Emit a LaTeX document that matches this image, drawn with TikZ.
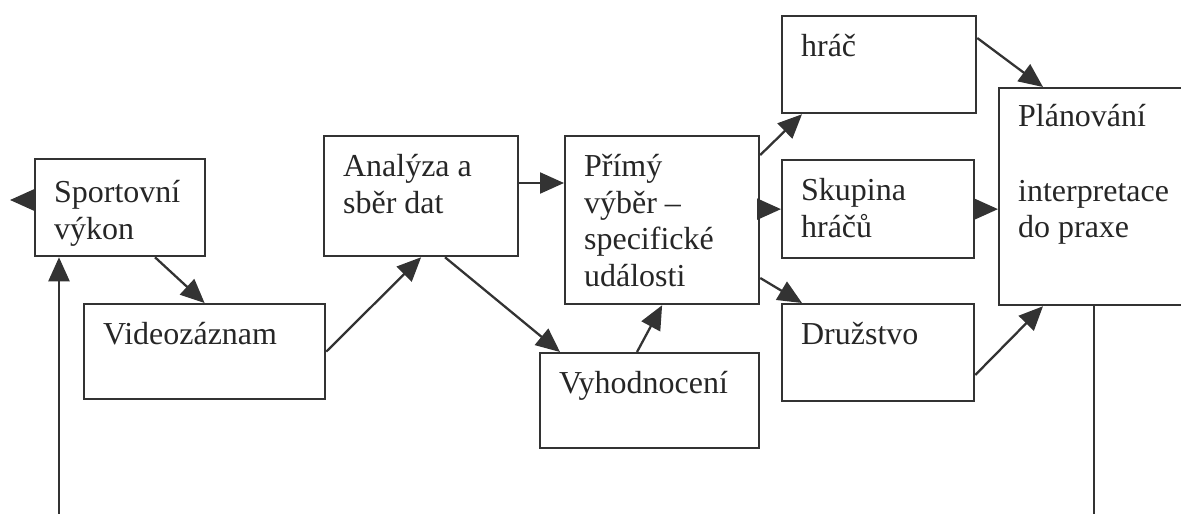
\documentclass[tikz,border=0pt]{standalone}
\usepackage{fontspec}
\setmainfont{Liberation Serif}
\usetikzlibrary{arrows.meta,calc}

\begin{document}
\begin{tikzpicture}[x=0.02cm, y=-0.02cm]
    % --- NASTAVENÍ ---
    \tikzset{
        box_style/.style={draw=black!80, text=black!85, line width=1.3pt, anchor=north west,
            inner xsep=0.38cm, inner ysep=0pt, align=flush left, text height=0.8cm,
            font=\fontsize{18.2}{21}\selectfont},
        arrow_style/.style={draw=black!80, line width=1.3pt, -{Triangle[length=0.48cm, width=0.42cm]}},
        line_style/.style={draw=black!80, line width=1.3pt}
    }

    \useasboundingbox (0,0) rectangle (1181,514);
    \clip (0,0) rectangle (1181,514);

    % ===================================================
    % 1. BOXY
    % ===================================================
    \node[box_style, text width=2.64cm, text height=0.86cm, text depth=1.08cm] (sport) at (34,158) {Sportovní\\výkon};
    \node[box_style, text width=4.06cm, text depth=1.1cm] (video) at (83,303) {Videozáznam};
    \node[box_style, text width=3.12cm, text depth=1.6cm] (anal) at (323,135) {Analýza a\\sběr dat};
    \node[box_style, text width=3.12cm, text depth=2.56cm] (primy) at (564,135) {Přímý\\výběr –\\specifické\\události};
    \node[box_style, text width=3.62cm, text depth=1.1cm] (vyhod) at (539,352) {Vyhodnocení};
    \node[box_style, text width=3.12cm, text depth=1.14cm] (hrac) at (781,15) {hráč};
    \node[box_style, text width=3.08cm, text depth=1.16cm] (skup) at (781,159) {Skupina\\hráčů};
    \node[box_style, text width=3.08cm, text depth=1.14cm] (druz) at (781,303) {Družstvo};
    \node[box_style, text width=3.24cm, text height=0.76cm, text depth=3.58cm] (plan) at (998,87) {Plánování\\[0.76cm]interpretace\\do praxe};

    % ===================================================
    % 2. ŠIPKY
    % ===================================================
    \coordinate (a1) at ($(anal.north east)+(0,48)$);
    \coordinate (ven) at (10,200);
    \coordinate (zpet_l) at (59,514);
    \coordinate (zpet_r) at (1094,514);

    \draw[arrow_style] ($(sport.south west)+(121,0)$) -- (video.north);
    \draw[arrow_style] (video.east) -- (anal.south);
    \draw[arrow_style] (a1) -- (a1 -| primy.west);
    \draw[arrow_style] ($(anal.south west)+(122,0)$) -- ($(vyhod.north west)+(21,0)$);
    \draw[arrow_style] ($(vyhod.north west)+(98,0)$) -- (primy.south);

    \draw[arrow_style] ($(primy.north east)+(0,20)$) -- ($(hrac.south west)+(21,0)$);
    \draw[arrow_style] (skup.west -| primy.east) -- (skup.west);
    \draw[arrow_style] ($(primy.north east)+(0,143)$) -- ($(druz.north west)+(21,0)$);

    \draw[arrow_style] ($(hrac.north east)+(0,23)$) -- ($(plan.north west)+(45,0)$);
    \draw[arrow_style] (skup.east) -- (skup.east -| plan.west);
    \draw[arrow_style] ($(druz.north east)+(0,72)$) -- ($(plan.south west)+(45,0)$);

    % ===================================================
    % 3. ZPĚTNÁ VAZBA
    % ===================================================
    \draw[arrow_style] (ven -| sport.west) -- (ven);
    \draw[arrow_style] (zpet_l) -- (zpet_l |- sport.south);
    \draw[line_style] ($(plan.south west)+(96,0)$) -- (zpet_r);

\end{tikzpicture}
\end{document}
